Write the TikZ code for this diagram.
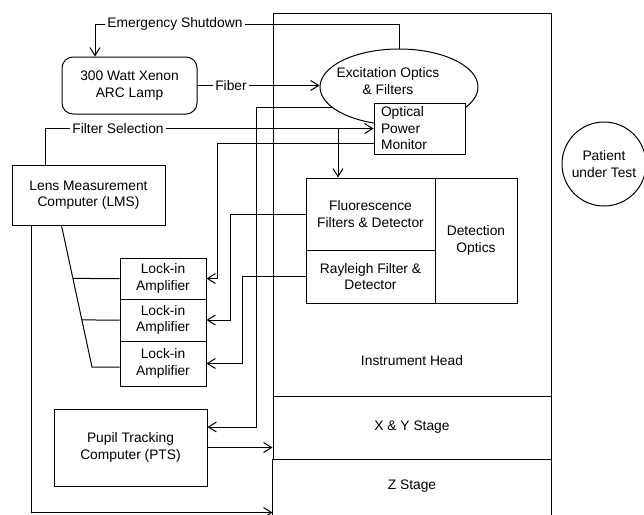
\documentclass[tikz,border=0pt]{standalone}
\usepackage{fontspec}
\setmainfont{Liberation Sans}
\usetikzlibrary{arrows.meta,shapes.geometric,calc}

\begin{document}
\begin{tikzpicture}[x=1pt,y=-1pt,
  line width=1pt,
  every node/.style={font=\fontsize{13.8}{16.5}\selectfont, align=center},
  blk/.style={draw, rectangle, inner sep=0pt},
  arr/.style={-{Straight Barb[length=8pt,width=10pt]}},
  tag/.style={fill=white, inner sep=2pt},
]
\useasboundingbox (0,0) rectangle (644,514);

% instrument column
\node[blk, minimum width=278pt, minimum height=383pt] (head) at (412,204.5) {};
\node (headtxt) at (412,361) {Instrument Head};
\node[blk, minimum width=278pt, minimum height=63pt] (xy) at (412,427.5) {X \& Y Stage};
\node[minimum width=278pt, minimum height=55pt, inner sep=0pt] (z) at (412,486.5) {Z Stage};
\draw (z.north west) -- (z.south west) (z.north east) -- (z.south east);

% light source and excitation path
\node[blk, rounded corners=11pt, minimum width=135pt, minimum height=57pt] (lamp) at (129.5,85.5) {300 Watt Xenon\\ARC Lamp};
\node[draw, ellipse, minimum width=158pt, minimum height=76pt, inner sep=0pt] (exc) at (399,87) {};
\node (exctxt) at (388,81) {Excitation Optics\\\& Filters};
\node[blk, fill=white, minimum width=91pt, minimum height=51pt, text width=77pt, align=left] (opm) at (419.5,128.5) {Optical\\Power\\Monitor};

% detection block
\node[blk, minimum width=129pt, minimum height=72pt] (fluor) at (370.5,214) {Fluorescence\\Filters \& Detector};
\node[blk, minimum width=129pt, minimum height=53pt] (rayl) at (370.5,276.5) {Rayleigh Filter \&\\Detector};
\node[blk, minimum width=82pt, minimum height=125pt] (detopt) at (476,240.5) {Detection\\Optics};

% electronics
\node[blk, minimum width=153pt, minimum height=60pt] (lms) at (88.5,195) {Lens Measurement\\Computer (LMS)};
\node[blk, minimum width=86pt, minimum height=41pt] (lock1) at (163,278.5) {Lock-in\\Amplifier};
\node[blk, minimum width=86pt, minimum height=42pt] (lock2) at (163,320) {Lock-in\\Amplifier};
\node[blk, minimum width=86pt, minimum height=45pt] (lock3) at (163,363.5) {Lock-in\\Amplifier};
\node[blk, minimum width=153pt, minimum height=77pt] (pts) at (130.5,447.5) {Pupil Tracking\\Computer (PTS)};

\node[draw, circle, minimum size=84pt, inner sep=0pt] (patient) at (604,164) {Patient\\under Test};

% control and signal lines
\coordinate (esc) at (95,24);
\draw[arr] (exc.north) |- (esc) -- (esc |- lamp.north);
\draw[arr] (lamp.east) -- (lamp.east -| exc.west);

\coordinate (fsc) at ([xshift=-43.5pt]lms.north);
\draw[arr] (fsc) |- (opm.west);
\coordinate (fsj) at (338,128.5);
\draw[arr] (fsj) -- (fsj |- fluor.north);

\draw[arr] ([yshift=11pt]opm.south west) -| ([xshift=11pt]lock1.east) -- (lock1.east);
\draw[arr] (fluor.west) -| ([xshift=24pt]lock2.east) -- (lock2.east);
\draw[arr] (rayl.west) -| ([xshift=36pt]lock3.east) -- (lock3.east);

\coordinate (ptsin) at ([yshift=20.5pt]pts.east);
\draw[arr] (exc.197) -| ([xshift=49pt]ptsin) -- (ptsin);
\draw[arr] (pts.east) -- (pts.east -| xy.west);
\draw[arr] ([xshift=20pt]lms.south west) |- ([yshift=2pt]z.south west);

\coordinate (dtop) at ([xshift=50pt]lms.south west);
\coordinate (dbot) at (92,367);
\draw (dtop) -- (dbot) -- (dbot -| lock3.west);
\draw (intersection of dtop--dbot and lock1.west--lock1.east) -- (lock1.west);
\draw (intersection of dtop--dbot and lock2.west--lock2.east) -- (lock2.west);

% line labels
\node[tag] (esdlbl) at (175,24) {Emergency Shutdown};
\node[tag] (fiblbl) at (231,85.5) {Fiber};
\node[tag] (fsllbl) at (118,128.5) {Filter Selection};
\end{tikzpicture}
\end{document}
